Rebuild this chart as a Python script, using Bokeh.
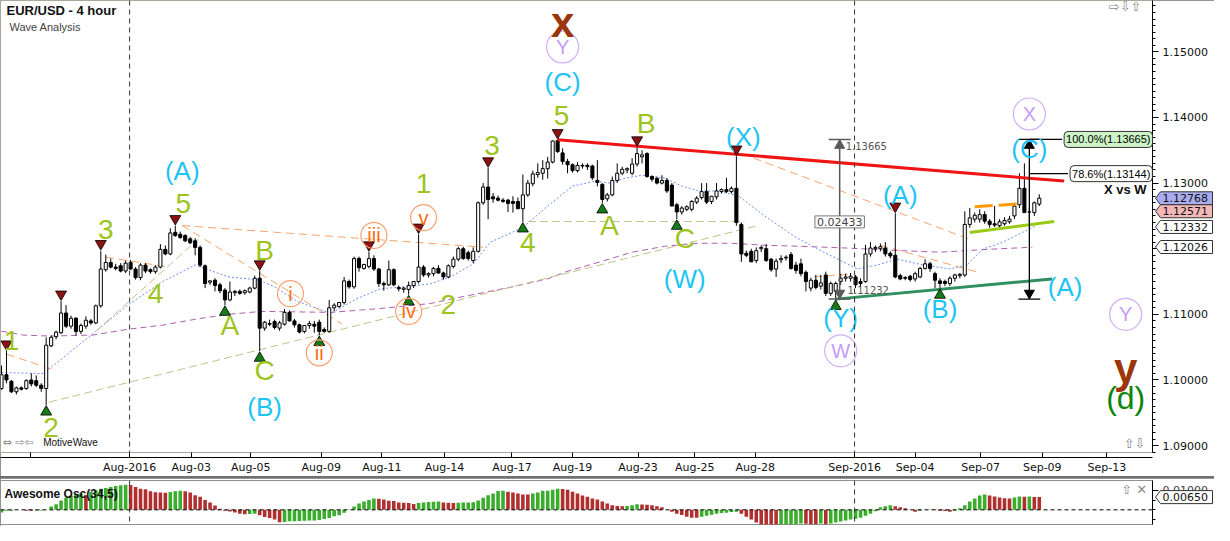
import numpy as np
from bokeh.plotting import figure
from bokeh.layouts import column, row
from bokeh.models import (ColumnDataSource, Range1d, FixedTicker, SingleIntervalTicker,
                          NumeralTickFormatter, CustomJSTickFormatter, Span, Label, LinearAxis)
from bokeh.core.properties import value
from bokeh.embed import file_html
from bokeh.resources import INLINE

# ---------------- price data (4 hour bars, EUR/USD) ----------------
opens = [
 1.0987,1.1008,1.0998,1.0982,1.0988,1.0987,1.1000,1.0999,1.0992,1.0987,
 1.1052,1.1066,1.1072,1.1102,1.1082,1.1094,1.1074,1.1082,1.1090,1.1087,
 1.1113,1.1168,1.1179,1.1172,1.1174,1.1166,1.1179,1.1169,1.1156,1.1175,
 1.1168,1.1165,1.1172,1.1199,1.1192,1.1225,1.1222,1.1220,1.1215,1.1212,
 1.1202,1.1174,1.1149,1.1152,1.1145,1.1137,1.1122,1.1133,1.1135,1.1133,
 1.1134,1.1140,1.1155,1.1079,1.1086,1.1089,1.1079,1.1085,1.1103,1.1090,
 1.1084,1.1074,1.1083,1.1085,1.1088,1.1077,1.1074,1.1110,1.1112,1.1118,
 1.1150,1.1142,1.1185,1.1170,1.1173,1.1185,1.1169,1.1147,1.1145,1.1168,
 1.1141,1.1138,1.1138,1.1144,1.1150,1.1172,1.1160,1.1162,1.1170,1.1163,
 1.1157,1.1173,1.1184,1.1200,1.1194,1.1182,1.1196,1.1270,1.1294,1.1279,
 1.1277,1.1274,1.1274,1.1272,1.1272,1.1261,1.1282,1.1299,1.1313,1.1315,
 1.1322,1.1332,1.1365,1.1346,1.1333,1.1328,1.1319,1.1326,1.1327,1.1326,
 1.1304,1.1298,1.1276,1.1282,1.1304,1.1315,1.1320,1.1315,1.1329,1.1340,
 1.1345,1.1310,1.1307,1.1300,1.1304,1.1297,1.1267,1.1256,1.1260,1.1260,
 1.1271,1.1278,1.1287,1.1272,1.1279,1.1287,1.1290,1.1287,1.1292,1.1237,
 1.1193,1.1196,1.1182,1.1200,1.1200,1.1184,1.1169,1.1183,1.1186,1.1191,
 1.1175,1.1177,1.1164,1.1140,1.1152,1.1143,1.1160,1.1132,1.1135,1.1150,
 1.1155,1.1155,1.1157,1.1150,1.1150,1.1192,1.1200,1.1200,1.1201,1.1193,
 1.1190,1.1159,1.1156,1.1158,1.1154,1.1157,1.1170,1.1177,1.1162,1.1151,
 1.1150,1.1147,1.1155,1.1159,1.1160,1.1237,1.1245,1.1245,1.1252,1.1242,
 1.1238,1.1235,1.1238,1.1241,1.1250,1.1267,1.1292,1.1256,1.1255,1.1268]
highs = [
 1.1022,1.1044,1.1000,1.0990,1.0990,1.1001,1.1010,1.1007,1.0995,1.1065,
 1.1068,1.1075,1.1120,1.1114,1.1098,1.1096,1.1086,1.1097,1.1093,1.1115,
 1.1197,1.1191,1.1185,1.1177,1.1178,1.1182,1.1183,1.1172,1.1178,1.1178,
 1.1170,1.1175,1.1207,1.1205,1.1231,1.1235,1.1226,1.1222,1.1218,1.1216,
 1.1205,1.1176,1.1152,1.1155,1.1148,1.1140,1.1150,1.1137,1.1138,1.1138,
 1.1142,1.1159,1.1166,1.1090,1.1092,1.1092,1.1090,1.1108,1.1106,1.1093,
 1.1086,1.1082,1.1090,1.1090,1.1092,1.1080,1.1122,1.1117,1.1118,1.1157,
 1.1153,1.1188,1.1188,1.1177,1.1195,1.1190,1.1171,1.1150,1.1182,1.1170,
 1.1144,1.1142,1.1150,1.1150,1.1222,1.1175,1.1164,1.1172,1.1175,1.1165,
 1.1176,1.1188,1.1203,1.1203,1.1197,1.1202,1.1272,1.1300,1.1323,1.1285,
 1.1281,1.1277,1.1276,1.1280,1.1278,1.1313,1.1305,1.1319,1.1330,1.1335,
 1.1340,1.1365,1.1366,1.1353,1.1337,1.1330,1.1332,1.1330,1.1330,1.1328,
 1.1335,1.1300,1.1285,1.1310,1.1330,1.1325,1.1324,1.1338,1.1355,1.1350,
 1.1347,1.1312,1.1310,1.1312,1.1308,1.1300,1.1270,1.1265,1.1266,1.1274,
 1.1280,1.1300,1.1300,1.1280,1.1300,1.1292,1.1308,1.1295,1.1341,1.1240,
 1.1197,1.1200,1.1202,1.1205,1.1207,1.1186,1.1185,1.1190,1.1190,1.1195,
 1.1180,1.1185,1.1167,1.1156,1.1160,1.1160,1.1165,1.1150,1.1150,1.1162,
 1.1162,1.1163,1.1160,1.1155,1.1206,1.1210,1.1205,1.1208,1.1210,1.1196,
 1.1254,1.1162,1.1158,1.1160,1.1165,1.1172,1.1184,1.1180,1.1165,1.1155,
 1.1153,1.1158,1.1162,1.1163,1.1257,1.1262,1.1255,1.1260,1.1257,1.1245,
 1.1265,1.1245,1.1248,1.1250,1.1270,1.1315,1.1330,1.1262,1.1272,1.1283]
lows = [
 1.0985,1.0995,1.0980,1.0978,1.0984,1.0985,1.0990,1.0989,1.0982,1.0962,
 1.1050,1.1062,1.1070,1.1079,1.1078,1.1068,1.1070,1.1078,1.1084,1.1085,
 1.1110,1.1165,1.1170,1.1167,1.1164,1.1163,1.1168,1.1153,1.1152,1.1163,
 1.1162,1.1162,1.1170,1.1190,1.1190,1.1218,1.1215,1.1210,1.1207,1.1190,
 1.1172,1.1140,1.1145,1.1135,1.1132,1.1114,1.1120,1.1128,1.1130,1.1130,
 1.1132,1.1138,1.1044,1.1075,1.1082,1.1077,1.1075,1.1083,1.1089,1.1080,
 1.1071,1.1071,1.1078,1.1072,1.1068,1.1072,1.1072,1.1105,1.1110,1.1115,
 1.1139,1.1139,1.1165,1.1168,1.1170,1.1166,1.1142,1.1136,1.1143,1.1143,
 1.1135,1.1133,1.1130,1.1140,1.1147,1.1157,1.1156,1.1158,1.1162,1.1153,
 1.1155,1.1170,1.1181,1.1183,1.1182,1.1178,1.1194,1.1267,1.1245,1.1270,
 1.1272,1.1270,1.1256,1.1255,1.1260,1.1241,1.1279,1.1295,1.1308,1.1305,
 1.1307,1.1330,1.1346,1.1328,1.1315,1.1316,1.1316,1.1322,1.1320,1.1305,
 1.1295,1.1270,1.1272,1.1280,1.1300,1.1312,1.1315,1.1312,1.1325,1.1330,
 1.1308,1.1302,1.1298,1.1298,1.1285,1.1265,1.1245,1.1252,1.1257,1.1257,
 1.1268,1.1275,1.1268,1.1268,1.1275,1.1284,1.1285,1.1284,1.1235,1.1180,
 1.1187,1.1180,1.1178,1.1195,1.1180,1.1165,1.1157,1.1178,1.1182,1.1168,
 1.1162,1.1158,1.1135,1.1135,1.1138,1.1138,1.1128,1.1128,1.1123,1.1145,
 1.1150,1.1150,1.1140,1.1143,1.1148,1.1188,1.1195,1.1196,1.1188,1.1185,
 1.1155,1.1152,1.1152,1.1150,1.1150,1.1155,1.1168,1.1165,1.1140,1.1140,
 1.1143,1.1143,1.1150,1.1155,1.1157,1.1232,1.1240,1.1240,1.1238,1.1232,
 1.1233,1.1232,1.1235,1.1238,1.1245,1.1262,1.1255,1.1240,1.1250,1.1265]
closes = [
 1.1008,1.1000,1.0982,1.0988,1.0986,1.0999,1.0994,1.0992,1.0987,1.1053,
 1.1065,1.1073,1.1102,1.1082,1.1094,1.1074,1.1083,1.1091,1.1087,1.1113,
 1.1169,1.1179,1.1172,1.1170,1.1166,1.1178,1.1169,1.1156,1.1175,1.1166,
 1.1165,1.1172,1.1199,1.1192,1.1224,1.1220,1.1217,1.1212,1.1209,1.1202,
 1.1175,1.1147,1.1151,1.1144,1.1136,1.1122,1.1134,1.1135,1.1132,1.1136,
 1.1140,1.1155,1.1079,1.1088,1.1085,1.1080,1.1087,1.1103,1.1090,1.1084,
 1.1073,1.1083,1.1086,1.1082,1.1074,1.1074,1.1110,1.1114,1.1118,1.1151,
 1.1142,1.1185,1.1171,1.1176,1.1185,1.1169,1.1147,1.1145,1.1168,1.1145,
 1.1139,1.1140,1.1144,1.1150,1.1172,1.1160,1.1162,1.1170,1.1163,1.1157,
 1.1174,1.1184,1.1200,1.1185,1.1185,1.1196,1.1270,1.1294,1.1275,1.1276,
 1.1274,1.1272,1.1269,1.1269,1.1261,1.1282,1.1300,1.1314,1.1316,1.1322,
 1.1332,1.1364,1.1348,1.1333,1.1328,1.1319,1.1327,1.1327,1.1325,1.1308,
 1.1301,1.1275,1.1282,1.1304,1.1315,1.1321,1.1322,1.1329,1.1345,1.1343,
 1.1310,1.1306,1.1300,1.1304,1.1288,1.1265,1.1256,1.1262,1.1264,1.1272,
 1.1277,1.1287,1.1271,1.1280,1.1288,1.1290,1.1287,1.1292,1.1240,1.1192,
 1.1190,1.1180,1.1197,1.1202,1.1182,1.1168,1.1181,1.1185,1.1187,1.1170,
 1.1167,1.1162,1.1150,1.1152,1.1141,1.1148,1.1132,1.1147,1.1147,1.1155,
 1.1157,1.1158,1.1145,1.1147,1.1192,1.1201,1.1202,1.1203,1.1192,1.1189,
 1.1157,1.1154,1.1155,1.1153,1.1162,1.1170,1.1177,1.1170,1.1152,1.1147,
 1.1147,1.1155,1.1160,1.1161,1.1237,1.1247,1.1251,1.1252,1.1242,1.1237,
 1.1236,1.1241,1.1243,1.1245,1.1265,1.1292,1.1255,1.1256,1.1270,1.1277]

# Awesome Oscillator (34,5) values read per bar
ao = [
 -0.0013,-0.0005,-0.0005,0.0001,0.0001,-0.0005,-0.0005,-0.0004,-0.0003,0.0001,
 0.0017,0.0028,0.0048,0.0062,0.0072,0.0080,0.0083,0.0075,0.0092,0.0100,
 0.0108,0.0112,0.0117,0.0122,0.0126,0.0128,0.0127,0.0117,0.0108,0.0105,
 0.0095,0.0090,0.0088,0.0087,0.0091,0.0095,0.0098,0.0095,0.0088,0.0075,
 0.0067,0.0050,0.0038,0.0022,0.0005,-0.0005,-0.0008,-0.0013,-0.0020,-0.0022,
 -0.0021,-0.0020,-0.0028,-0.0037,-0.0042,-0.0050,-0.0063,-0.0062,-0.0059,-0.0058,
 -0.0057,-0.0056,-0.0055,-0.0054,-0.0052,-0.0047,-0.0042,-0.0033,-0.0028,-0.0015,
 0.0002,0.0017,0.0033,0.0042,0.0050,0.0058,0.0057,0.0053,0.0047,0.0045,
 0.0037,0.0036,0.0035,0.0030,0.0035,0.0038,0.0040,0.0041,0.0042,0.0037,
 0.0036,0.0035,0.0036,0.0037,0.0038,0.0039,0.0048,0.0062,0.0075,0.0083,
 0.0096,0.0097,0.0092,0.0088,0.0083,0.0079,0.0078,0.0083,0.0088,0.0097,
 0.0098,0.0103,0.0108,0.0107,0.0103,0.0092,0.0083,0.0073,0.0067,0.0058,
 0.0053,0.0043,0.0033,0.0023,0.0019,0.0018,0.0019,0.0023,0.0028,0.0027,
 0.0026,0.0023,0.0018,0.0013,0.0001,-0.0010,-0.0020,-0.0027,-0.0035,-0.0040,
 -0.0041,-0.0035,-0.0030,-0.0025,-0.0020,-0.0016,-0.0015,-0.0011,-0.0010,-0.0020,
 -0.0035,-0.0050,-0.0065,-0.0078,-0.0079,-0.0080,-0.0081,-0.0080,-0.0077,-0.0076,
 -0.0075,-0.0070,-0.0071,-0.0074,-0.0075,-0.0070,-0.0074,-0.0070,-0.0065,-0.0060,
 -0.0055,-0.0050,-0.0045,-0.0040,-0.0030,-0.0020,-0.0007,0.0013,0.0018,0.0023,
 0.0018,0.0013,0.0008,0.0002,-0.0010,-0.0005,0.0001,0.0002,0.0003,-0.0005,
 -0.0006,-0.0010,-0.0005,0.0008,0.0023,0.0043,0.0058,0.0073,0.0078,0.0073,
 0.0068,0.0063,0.0059,0.0058,0.0063,0.0068,0.0067,0.0068,0.0066,0.0065]

# x-axis ticks (bar positions) and their labels
xtick_pos = [5.8, 25.8, 38.2, 50.2, 64.4, 76.6, 89.2, 102.8, 115.0, 128.2,
             139.6, 151.8, 171.8, 184.0, 197.2, 209.6, 222.6]
xtick_lab = ["", "Aug-2016", "Aug-03", "Aug-05", "Aug-09", "Aug-11", "Aug-14", "Aug-17",
             "Aug-19", "Aug-23", "Aug-25", "Aug-28", "Sep-2016", "Sep-04", "Sep-07",
             "Sep-09", "Sep-13"]
month_sep = [25.8, 171.8]

# moving averages (read at points)
blue_ma_x = [0, 8.4, 12.4, 19, 25.6, 32.4, 39, 45.6, 51.6, 55, 59.6, 66.4, 71.6, 76.4,
             81.6, 86.4, 90.4, 95, 98.4, 105, 110, 115, 119.6, 122.4, 125.6, 129, 133.6,
             137, 140.4, 144.4, 148.4, 153.6, 160, 165.6, 172.4, 176.4, 180.4, 185.6,
             191, 194.4, 197.6, 201.6, 205.6, 208.4]
blue_ma_y = [1.10113, 1.10098, 1.10338, 1.10744, 1.11150, 1.11496, 1.11752, 1.11571,
             1.11526, 1.11421, 1.11195, 1.11015, 1.11241, 1.11391, 1.11421, 1.11466,
             1.11571, 1.11767, 1.12098, 1.12323, 1.12650, 1.12955, 1.13030, 1.13000,
             1.13075, 1.13120, 1.13075, 1.12955, 1.12880, 1.12880, 1.12805, 1.12504,
             1.12173, 1.11947, 1.11692, 1.11752, 1.11842, 1.11752, 1.11692, 1.11752,
             1.11992, 1.12098, 1.12248, 1.12353]
purple_ma_x = [0, 4.4, 9.6, 18.4, 25.6, 32.4, 39, 45.6, 52.4, 66.4, 76.4, 86.4, 93, 103,
               110, 113.6, 120.4, 127, 133.6, 140.4, 147, 153.6, 160.4, 171, 179, 189,
               199, 207.6]
purple_ma_y = [1.10744, 1.10684, 1.10669, 1.10684, 1.10774, 1.10835, 1.10925, 1.11000,
               1.11045, 1.11030, 1.11090, 1.11165, 1.11271, 1.11421, 1.11541, 1.11647,
               1.11797, 1.11947, 1.12038, 1.12083, 1.12083, 1.12053, 1.12038, 1.12008,
               1.11977, 1.11947, 1.11992, 1.12023]

# wave channel lines
olive_x0 = [9.6, 19, 106]
olive_y0 = [1.09662, 1.10744, 1.12414]
olive_x1 = [152.4, 39.6, 149.6]
olive_y1 = [1.12353, 1.12143, 1.12414]
orange_x0 = [1, 21, 36.4, 36.4, 149, 177, 163.6]
orange_y0 = [1.10394, 1.11872, 1.12353, 1.12353, 1.13451, 1.12053, 1.11571]
orange_x1 = [11, 33.6, 68.6, 97, 195, 196.4, 171.6]
orange_y1 = [1.10143, 1.11722, 1.10850, 1.12023, 1.12143, 1.11647, 1.11617]

red_line_x = [112, 214]
red_line_y = [1.13662, 1.13030]
green_line_x = [168, 211.6]
green_line_y = [1.11232, 1.11540]
lime_line_x = [195, 212]
lime_line_y = [1.12248, 1.12414]
amber_line_x = [196, 205.2]
amber_line_y = [1.12639, 1.12684]

# pivots (bar indices) with markers
peak_idx = [1, 12, 20, 35, 52, 74, 84, 98, 112, 128, 148, 180]
trough_idx = [9, 45, 52, 64, 82, 105, 121, 136, 168, 189]

# measurement / fibonacci
measure_low, measure_high = 1.11232, 1.13665
fib_786 = 1.13144
measure1_x, measure2_x = 168.8, 207

# right-axis price tags
tag_prices = [1.12768, 1.12571, 1.12332, 1.12026]
tag_fills = ["#a9adf0", "#f4b8b8", "white", "white"]
ao_tag = 0.00650

# wave labels
green_txt = ["1", "2", "3", "4", "5", "A", "B", "C", "1", "2", "3", "4", "5", "A", "B", "C"]
green_x = [2, 10, 21, 31, 36.6, 46, 53, 53, 85, 90, 98.8, 106, 112.8, 122.4, 129.8, 137.6]
green_y = [1.10609, 1.09271, 1.12293, 1.11316, 1.12684, 1.10835, 1.11977, 1.10143,
           1.13000, 1.11150, 1.13571, 1.12098, 1.14023, 1.12353, 1.13902, 1.12158]
cyan_txt = ["(A)", "(B)", "(C)", "(W)", "(X)", "(Y)", "(A)", "(B)", "(C)", "(A)"]
cyan_x = [36.4, 53, 113, 137.6, 149.4, 169, 181, 189, 207, 214.2]
cyan_y = [1.13180, 1.09586, 1.14534, 1.11541, 1.13707, 1.10940, 1.12820, 1.11075,
          1.13526, 1.11421]
lav_txt = ["Y", "W", "X", "Y"]
lav_x = [113, 169, 207, 226.4]
lav_y = [1.15075, 1.10444, 1.14053, 1.11000]
roman_txt = ["i", "ii", "iii", "iv", "v"]
roman_x = [58.2, 64, 75, 82, 85]
roman_y = [1.11316, 1.10414, 1.12203, 1.11045, 1.12474]
brown_txt = ["x", "y"]
brown_x = [113, 226.4]
brown_y = [1.15451, 1.10173]
dgreen_txt = ["(d)"]
dgreen_x = [226.4]
dgreen_y = [1.09722]

# ---------------- layout constants ----------------
X0, X1 = -0.2, 231.8
Y0, Y1 = 1.08895, 1.15782
FW, FH = 1152, 452
RB = 62            # right border (price axis)
PPY = (Y1 - Y0) / FH
SANS = "Liberation Sans"
AXF = "DejaVu Sans"

p = figure(frame_width=FW, frame_height=FH, x_range=Range1d(X0, X1), y_range=Range1d(Y0, Y1),
           output_backend="svg", toolbar_location=None, y_axis_location="right",
           min_border_left=0, min_border_right=RB, min_border_top=0, min_border_bottom=0)
p.grid.visible = False
p.background_fill_color = "white"
p.border_fill_color = "white"
p.outline_line_color = "#a8a898"

# time axis: a tick strip next to the frame, then the axis line with the labels
xticker = FixedTicker(ticks=xtick_pos)
p.xaxis.ticker = xticker
p.xaxis.formatter = CustomJSTickFormatter(code="return '';")
p.xaxis.major_label_text_font_size = "0px"
p.xaxis.major_label_standoff = 0
p.xaxis.major_tick_out = 5
p.xaxis.major_tick_in = 0
p.xaxis.minor_tick_out = 0
p.xaxis.major_tick_line_color = "black"
p.xaxis.axis_line_color = "#a8a898"

xlab_axis = LinearAxis(ticker=xticker,
                       formatter=CustomJSTickFormatter(args=dict(tpos=xtick_pos, tlab=xtick_lab), code="""
let best = -1, bd = 1e9;
for (let k = 0; k < tpos.length; k++) { const d = Math.abs(tpos[k] - tick); if (d < bd) { bd = d; best = k; } }
return (best >= 0 && bd < 0.05) ? tlab[best] : "";
"""))
xlab_axis.major_tick_out = 0
xlab_axis.major_tick_in = 0
xlab_axis.minor_tick_out = 0
xlab_axis.minor_tick_in = 0
xlab_axis.major_label_text_font = AXF
xlab_axis.major_label_text_font_size = "11px"
xlab_axis.major_label_text_color = "#111"
xlab_axis.major_label_standoff = 3
xlab_axis.axis_line_color = "black"
p.add_layout(xlab_axis, "below")

p.yaxis.ticker = SingleIntervalTicker(interval=0.01, num_minor_ticks=10)
p.yaxis.formatter = NumeralTickFormatter(format="0.00000")
p.yaxis.major_tick_out = 6
p.yaxis.major_tick_in = 0
p.yaxis.minor_tick_out = 3
p.yaxis.minor_tick_in = 0
p.yaxis.major_label_text_font = AXF
p.yaxis.major_label_text_font_size = "11px"
p.yaxis.major_label_text_color = "#111"
p.yaxis.major_label_standoff = 4
p.yaxis.axis_line_color = "black"

for xs in month_sep:
    p.add_layout(Span(location=xs, dimension="height", line_color="#333333",
                      line_dash="5 4", line_width=1))

# moving averages
p.line(purple_ma_x, purple_ma_y, line_color="#b05fb0", line_dash="6 4", line_width=1)
p.line(blue_ma_x, blue_ma_y, line_color="#6f8ff2", line_dash="2 2", line_width=1)
# wave channel lines
p.segment(x0=olive_x0, y0=olive_y0, x1=olive_x1, y1=olive_y1, line_color="#c4c08a",
          line_dash="8 4", line_width=1)
p.segment(x0=orange_x0, y0=orange_y0, x1=orange_x1, y1=orange_y1, line_color="#f7a46c",
          line_dash="8 5", line_width=1)

# candles
N = len(closes)
idx = np.arange(N)
o = np.array(opens); c = np.array(closes)
src = ColumnDataSource(dict(x=idx, hi=highs, lo=lows, top=np.maximum(o, c),
                            bot=np.minimum(o, c),
                            fill=["white" if cc >= oo else "black" for oo, cc in zip(opens, closes)]))
p.segment(x0="x", y0="hi", x1="x", y1="lo", source=src, line_color="black", line_width=1)
p.vbar(x="x", width=0.62, top="top", bottom="bot", source=src, fill_color="fill",
       line_color="black", line_width=1)

# bold trend lines
p.line(red_line_x, red_line_y, line_color="#f01414", line_width=3)
p.line(green_line_x, green_line_y, line_color="#2f8f5f", line_width=3)
p.line(lime_line_x, lime_line_y, line_color="#9acb14", line_width=3)
p.line(amber_line_x, amber_line_y, line_color="#ff9a0a", line_width=3, line_dash="18 6")

# pivot markers
p.scatter([idx[k] for k in peak_idx], [highs[k] + 7 * PPY for k in peak_idx],
          marker="inverted_triangle", size=11, fill_color="#8a1212", line_color="black",
          line_width=0.8)
p.scatter([idx[k] for k in trough_idx], [lows[k] - 7 * PPY for k in trough_idx],
          marker="triangle", size=11, fill_color="#167a16", line_color="black",
          line_width=0.8)

# measurement 1 (gray)
mx = measure1_x
p.segment(x0=[mx, mx - 2.2, mx - 2.2], y0=[measure_low, measure_high, measure_low],
          x1=[mx, mx + 2.2, mx + 2.2], y1=[measure_high, measure_high, measure_low],
          line_color="#5a5a5a", line_width=1.5)
p.scatter([mx], [measure_high - 6 * PPY], marker="triangle", size=10, fill_color="#5a5a5a",
          line_color="#5a5a5a")
p.scatter([mx], [measure_low + 6 * PPY], marker="inverted_triangle", size=10,
          fill_color="#5a5a5a", line_color="#5a5a5a")
p.text([mx + 1.2], [measure_high - 7 * PPY], text=[f"{measure_high:.5f}"], text_font=value(AXF),
       text_font_size="10px", text_color="#555555", text_baseline="middle", text_align="left")
p.text([mx + 1.6], [measure_low + 9 * PPY], text=[f"{measure_low:.5f}"], text_font=value(AXF),
       text_font_size="10px", text_color="#555555", text_baseline="middle", text_align="left")
p.add_layout(Label(x=mx, y=(measure_low + measure_high) / 2 - 0.0004,
                   text=f"{measure_high - measure_low:.5f}", text_font=AXF,
                   text_font_size="11px", text_color="#444", text_align="center",
                   text_baseline="middle", background_fill_color="white",
                   border_line_color="#777777", padding=2))

# measurement 2 (black) with fibonacci levels
mx2 = measure2_x
p.segment(x0=[mx2, mx2 - 2.2, mx2 - 2.2, mx2, mx2],
          y0=[measure_low, measure_high, measure_low, measure_high, fib_786],
          x1=[mx2, mx2 + 2.2, mx2 + 2.2, 213.6, 214.8],
          y1=[measure_high, measure_high, measure_low, measure_high, fib_786],
          line_color="black", line_width=1.3)
p.scatter([mx2], [measure_high - 6 * PPY], marker="triangle", size=10, fill_color="black",
          line_color="black")
p.scatter([mx2], [measure_low + 6 * PPY], marker="inverted_triangle", size=10,
          fill_color="black", line_color="black")
p.add_layout(Label(x=214.0, y=measure_high, text=f"100.0%({measure_high:.5f})",
                   text_font=SANS, text_font_size="11px", text_color="black",
                   text_baseline="middle", background_fill_color="#ccf4c6",
                   border_line_color="#333333", border_radius=4, padding=2))
p.add_layout(Label(x=215.2, y=fib_786, text=f"78.6%({fib_786:.5f})",
                   text_font=SANS, text_font_size="11px", text_color="black",
                   text_baseline="middle", background_fill_color="white",
                   border_line_color="#333333", border_radius=4, padding=2))
p.text([230.6], [1.12895], text=["X vs W"], text_font=value(SANS), text_font_size="13px",
       text_font_style="bold", text_align="right", text_baseline="middle", text_color="#111")

# wave labels
p.text(green_x, green_y, text=green_txt, text_font=value(SANS), text_font_size="28px",
       text_color="#9cc41c", text_align="center", text_baseline="middle")
p.text(cyan_x, cyan_y, text=cyan_txt, text_font=value(SANS), text_font_size="26px",
       text_color="#1ec4f4", text_align="center", text_baseline="middle")
p.scatter(lav_x, lav_y, marker="circle", size=32, fill_alpha=0, line_color="#d2aef8",
          line_width=1.2)
p.text(lav_x, lav_y, text=lav_txt, text_font=value(SANS), text_font_size="20px",
       text_color="#c59cf4", text_align="center", text_baseline="middle")
p.scatter(roman_x, roman_y, marker="circle", size=26, fill_alpha=0, line_color="#ff9f70",
          line_width=1.2)
p.text(roman_x, roman_y, text=roman_txt, text_font=value(SANS), text_font_size="20px",
       text_color="#ff6a12", text_align="center", text_baseline="middle")
p.text(brown_x, brown_y, text=brown_txt, text_font=value(SANS), text_font_size="42px",
       text_font_style="bold", text_color="#9a360a", text_align="center",
       text_baseline="alphabetic")
p.text(dgreen_x, dgreen_y, text=dgreen_txt, text_font=value(SANS), text_font_size="32px",
       text_color="#0b860b", text_align="center", text_baseline="middle")

# titles and small decorations
p.text([1.0], [1.15632], text=["EUR/USD - 4 hour"], text_font=value(SANS),
       text_font_size="13px", text_font_style="bold", text_color="#111",
       text_baseline="middle", text_align="left")
p.text([1.6], [1.15376], text=["Wave Analysis"], text_font=value(SANS),
       text_font_size="11px", text_color="#444", text_baseline="middle", text_align="left")
p.text([0.2], [1.09045], text=["\u21d4 \u21e8\u21e6"], text_font=value(AXF),
       text_font_size="11px", text_color="#888", text_baseline="middle", text_align="left")
p.text([8.4], [1.09045], text=["MotiveWave"], text_font=value(SANS),
       text_font_size="10px", text_color="#111", text_baseline="middle", text_align="left")
p.text([223.0], [1.15692], text=["\u21e8\u21e9\u21e7"], text_font=value(AXF),
       text_font_size="13px", text_color="#8a8a8a", text_baseline="middle", text_align="left")
p.text([226.0], [1.09035], text=["\u21e7\u21e9"], text_font=value(AXF),
       text_font_size="13px", text_color="#8a8a8a", text_baseline="middle", text_align="left")


def tag_figure(y_range, frame_h, top, prices, fills, half_px, ppy):
    """A transparent strip laid over the axis area that holds the price tags."""
    t = figure(frame_width=RB, frame_height=frame_h, x_range=Range1d(0, RB), y_range=y_range,
               output_backend="svg", toolbar_location=None,
               min_border_left=0, min_border_right=0, min_border_top=top,
               min_border_bottom=0)
    t.axis.visible = False
    t.grid.visible = False
    t.outline_line_color = None
    t.background_fill_alpha = 0
    t.border_fill_alpha = 0
    t.styles = {"margin-left": f"-{RB}px"}
    xs, ys = [], []
    for pr in prices:
        h = half_px * ppy
        xs.append([3, 8, RB - 2, RB - 2, 8])
        ys.append([pr, pr + h, pr + h, pr - h, pr - h])
    t.patches(xs, ys, fill_color=fills, line_color="#333333", line_width=1)
    t.text([10] * len(prices), prices, text=[f"{v:.5f}" for v in prices],
           text_font=value(AXF), text_font_size="11px", text_color="#111",
           text_baseline="middle", text_align="left")
    return t


pt = tag_figure(p.y_range, FH, 0, tag_prices, tag_fills, 6.5, PPY)

# ---------------- Awesome oscillator panel ----------------
green_c, red_c = "#3aad2c", "#b03030"
ao_col = []
prev = green_c
for k, v in enumerate(ao):
    if k == 0 or v > ao[k - 1]:
        col = green_c
    elif v < ao[k - 1]:
        col = red_c
    else:
        col = prev
    ao_col.append(col)
    prev = col

OH = 44
QY0, QY1 = -0.0075, 0.0150
q = figure(frame_width=FW, frame_height=OH, x_range=p.x_range, y_range=Range1d(QY0, QY1),
           output_backend="svg", toolbar_location=None, y_axis_location="right",
           min_border_left=0, min_border_right=RB, min_border_top=2, min_border_bottom=2)
q.grid.visible = False
q.xaxis.visible = False
q.outline_line_color = "#909090"
q.border_fill_color = "white"
q.yaxis.ticker = FixedTicker(ticks=[0.01], minor_ticks=[-0.005, 0.0, 0.005])
q.yaxis.formatter = NumeralTickFormatter(format="0.00000")
q.yaxis.major_tick_out = 6
q.yaxis.major_tick_in = 0
q.yaxis.minor_tick_out = 3
q.yaxis.minor_tick_in = 0
q.yaxis.major_label_text_font = AXF
q.yaxis.major_label_text_font_size = "11px"
q.yaxis.major_label_standoff = 4
q.yaxis.axis_line_color = "black"

q.vbar(x=idx, top=ao, bottom=0, width=0.72, fill_color=ao_col, line_color=None)
q.add_layout(Span(location=0, dimension="width", line_color="black", line_dash="4 3",
                  line_width=1))
for xs in month_sep:
    q.add_layout(Span(location=xs, dimension="height", line_color="#333333",
                      line_dash="5 4", line_width=1))
q.text([0.6], [0.0083], text=["Awesome Osc(34,5)"], text_font=value(SANS),
       text_font_size="12px", text_font_style="bold", text_color="#111",
       text_baseline="middle", text_align="left")
q.text([225.5], [0.0105], text=["\u21e7 \u2715"], text_font=value(AXF),
       text_font_size="13px", text_color="#8a8a8a", text_baseline="middle", text_align="left")

qt = tag_figure(q.y_range, OH, 2, [ao_tag], ["white"], 6.5, (QY1 - QY0) / OH)

layout = column(row(p, pt, spacing=0), row(q, qt, spacing=0), spacing=2,
                styles={"background-color": "#707070"})
open("out.html", "w").write(file_html(layout, INLINE))
